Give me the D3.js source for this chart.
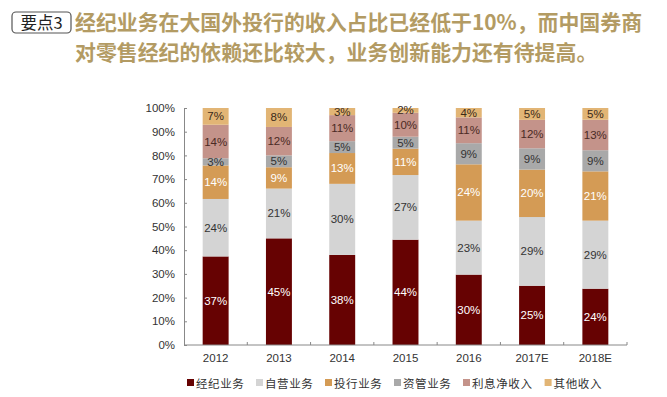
<!DOCTYPE html>
<html>
<head>
<meta charset="utf-8">
<script src="https://cdn.jsdelivr.net/npm/d3@7"></script>
<style>
  body { margin: 0; background: #fff; }
  svg { display: block; }
</style>
</head>
<body>
<div id="chart"></div>
<script>
// Categories and series (values in %)
const years = ['2012', '2013', '2014', '2015', '2016', '2017E', '2018E'];
const seriesNames = ['经纪业务', '自营业务', '投行业务', '资管业务', '利息净收入', '其他收入'];
const brokerage = [37, 45, 38, 44, 30, 25, 24];
const proprietary = [24, 21, 30, 27, 23, 29, 29];
const ibanking = [14, 9, 13, 11, 24, 20, 21];
const assetMgmt = [3, 5, 5, 5, 9, 9, 9];
const netInterest = [14, 12, 11, 10, 11, 12, 13];
const other = [7, 8, 3, 2, 4, 5, 5];
const yTicks = [0, 10, 20, 30, 40, 50, 60, 70, 80, 90, 100];

const colors = ['#660202', '#d4d4d4', '#d49b55', '#a9a9a9', '#c4938a', '#e2b575'];
const labelColors = ['#fff', '#333', '#fff', '#333', '#4a2a24', '#3a2a1a'];

const width = 667;
const height = 397;

const svg = d3.select('#chart')
  .append('svg')
  .attr('width', width)
  .attr('height', height);

// Heading
const boxG = svg.append('g');
boxG.append('rect')
  .attr('x', 12).attr('y', 12)
  .attr('width', 59).attr('height', 21)
  .attr('rx', 4)
  .style('fill', '#fff')
  .style('stroke', '#555')
  .style('stroke-width', 1.2);
boxG.append('text')
  .text('要点3')
  .attr('x', 41.5).attr('y', 28.5)
  .style('text-anchor', 'middle')
  .style('font-family', '"Noto Sans CJK SC", sans-serif')
  .style('font-size', '16.5px')
  .style('fill', '#222');

const titleLines = [
  '经纪业务在大国外投行的收入占比已经低于10%，而中国券商',
  '对零售经纪的依赖还比较大，业务创新能力还有待提高。'
];
svg.append('g').selectAll('text')
  .data(titleLines)
  .enter()
  .append('text')
  .text(d => d)
  .attr('x', 75)
  .attr('y', (d, i) => 30 + i * 30)
  .style('font-family', '"Noto Sans CJK SC", sans-serif')
  .style('font-weight', 'bold')
  .style('font-size', '20.9px')
  .style('fill', '#b39b63');

// Scales
const x = d3.scaleBand()
  .domain(years)
  .range([184, 627])
  .paddingInner(0.59)
  .paddingOuter(0.295);
const y = d3.scaleLinear()
  .domain([0, 1])
  .range([345, 108]);

// Table for the stack
const seriesValues = [brokerage, proprietary, ibanking, assetMgmt, netInterest, other];
const table = years.map((yr, i) => {
  const row = {year: yr};
  seriesNames.forEach((s, j) => { row[s] = seriesValues[j][i]; });
  return row;
});
const stacked = d3.stack()
  .keys(seriesNames)
  .offset(d3.stackOffsetExpand)(table);

// Bars
const layers = svg.append('g')
  .selectAll('g')
  .data(stacked)
  .enter()
  .append('g')
  .style('fill', (d, i) => colors[i]);

layers.selectAll('rect')
  .data(d => d)
  .enter()
  .append('rect')
  .attr('x', d => x(d.data.year))
  .attr('y', d => y(d[1]))
  .attr('width', x.bandwidth())
  .attr('height', d => y(d[0]) - y(d[1]));

// Value labels
svg.append('g')
  .selectAll('g')
  .data(stacked)
  .enter()
  .append('g')
  .each(function(layer, li) {
    d3.select(this).selectAll('text')
      .data(layer)
      .enter()
      .append('text')
      .text(d => d.data[layer.key] + '%')
      .attr('x', d => x(d.data.year) + x.bandwidth() / 2)
      .attr('y', d => (y(d[0]) + y(d[1])) / 2 + 4)
      .style('text-anchor', 'middle')
      .style('font-family', '"Liberation Sans", Arial, sans-serif')
      .style('font-size', '11.5px')
      .style('fill', labelColors[li]);
  });

// Y axis
const yAxis = svg.append('g')
  .attr('transform', 'translate(184,0)')
  .call(d3.axisLeft(y)
    .tickValues(yTicks.map(v => v / 100))
    .tickFormat(v => Math.round(v * 100) + '%')
    .tickSizeInner(-3)
    .tickSizeOuter(-3)
    .tickPadding(9));
yAxis.select('.domain').style('stroke', '#888');
yAxis.selectAll('.tick line').style('stroke', '#888');
yAxis.selectAll('text')
  .style('font-family', '"Liberation Sans", Arial, sans-serif')
  .style('font-size', '11.5px')
  .style('fill', '#333');

// X axis: line with ticks between categories
const xAxis = svg.append('g')
  .attr('transform', 'translate(0,345)');
xAxis.append('line')
  .attr('x1', 184).attr('x2', 627)
  .style('stroke', '#888');
xAxis.selectAll('line.sep')
  .data(years)
  .enter()
  .append('line')
  .classed('sep', true)
  .attr('x1', d => x(d) + x.bandwidth() + x.step() * x.paddingInner() / 2)
  .attr('x2', d => x(d) + x.bandwidth() + x.step() * x.paddingInner() / 2)
  .attr('y1', 0).attr('y2', -3)
  .style('stroke', '#888');
xAxis.selectAll('text')
  .data(years)
  .enter()
  .append('text')
  .text(d => d)
  .attr('x', d => x(d) + x.bandwidth() / 2)
  .attr('y', 17)
  .style('text-anchor', 'middle')
  .style('font-family', '"Liberation Sans", Arial, sans-serif')
  .style('font-size', '11.5px')
  .style('fill', '#333');

// Legend, items laid out by label length
let lx = 187;
const legendX = seriesNames.map(s => {
  const pos = lx;
  lx += 9 + s.length * 12.6 + 9.6;
  return pos;
});
const legend = svg.append('g')
  .selectAll('g')
  .data(seriesNames)
  .enter()
  .append('g')
  .attr('transform', (d, i) => `translate(${legendX[i]}, 383)`);
legend.append('rect')
  .attr('x', 0).attr('y', -4)
  .attr('width', 7).attr('height', 7)
  .style('fill', (d, i) => colors[i]);
legend.append('text')
  .text(d => d)
  .attr('x', 9)
  .attr('y', 4.5)
  .style('font-family', '"Noto Sans CJK SC", sans-serif')
  .style('font-size', '11.5px')
  .style('letter-spacing', '0.6px')
  .style('fill', '#333');
</script>
</body>
</html>
